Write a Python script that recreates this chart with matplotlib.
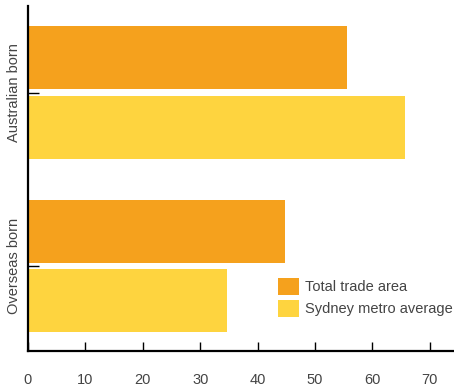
import numpy as np
import matplotlib
matplotlib.use('Agg')
import matplotlib.pyplot as plt

# Data
categories = ['Overseas born', 'Australian born']
total_trade_area = [44.8, 55.6]
sydney_metro_avg = [34.7, 65.7]
series_labels = ['Total trade area', 'Sydney metro average']
x_ticks = [0, 10, 20, 30, 40, 50, 60, 70]

ORANGE = '#F5A11D'
YELLOW = '#FED43F'
TEXT = '#444444'

plt.rcParams['font.family'] = ['Liberation Sans', 'DejaVu Sans']

fig = plt.figure(figsize=(4.54, 3.89), dpi=100)
ax = fig.add_axes([28 / 454, 38 / 389, 426 / 454, 345 / 389])

y = np.arange(len(categories))
h = 0.363
off = 0.199
ax.barh(y + off, total_trade_area, height=h, color=ORANGE, label=series_labels[0])
ax.barh(y - off, sydney_metro_avg, height=h, color=YELLOW, label=series_labels[1])

ax.set_xlim(0, 74.2)
ax.set_ylim(-0.49, 1.4986)
ax.set_xticks(x_ticks)
ax.set_yticks(y)
ax.set_yticklabels(categories, rotation=90, va='center')

for s in ['top', 'right']:
    ax.spines[s].set_visible(False)
for s in ['left', 'bottom']:
    ax.spines[s].set_linewidth(1.6)
    ax.spines[s].set_color('black')

ax.tick_params(axis='x', direction='in', length=6.5, width=1, pad=16,
               labelsize=10.5, labelcolor=TEXT)
ax.tick_params(axis='y', direction='in', length=8, width=1, pad=5,
               labelsize=10.5, labelcolor=TEXT)

leg = ax.legend(loc='upper left', bbox_to_anchor=(250 / 426, 73 / 345),
                frameon=False, fontsize=10.5, handlelength=1.45, handleheight=1.45,
                handletextpad=0.4, labelspacing=0.3, borderpad=0,
                borderaxespad=0)
for t in leg.get_texts():
    t.set_color(TEXT)

fig.savefig('out.png', dpi=100)
